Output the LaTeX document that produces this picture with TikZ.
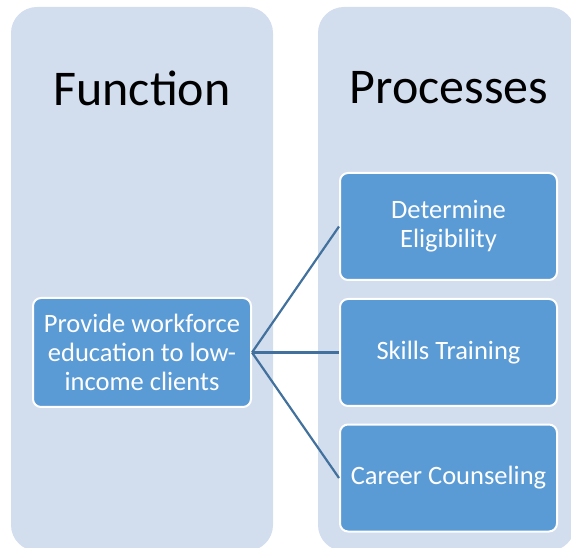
\documentclass[tikz,border=0pt]{standalone}
\usepackage{fontspec}
\setmainfont{Carlito}
\definecolor{panelfill}{RGB}{210,221,238}
\definecolor{boxfill}{RGB}{91,155,213}
\definecolor{linkcol}{RGB}{65,113,156}
\tikzset{
  panel/.style={fill=panelfill, draw=none, rounded corners=26pt},
  procbox/.style={fill=boxfill, draw=white, line width=2pt, rounded corners=8pt,
    minimum width=217pt, minimum height=107pt, text=white, align=center,
    font=\fontsize{26.5}{29}\selectfont, inner sep=0pt},
  title/.style={font=\fontsize{50}{60}\selectfont, text=black},
  link/.style={draw=linkcol, line width=2.2pt}
}
\begin{document}
\begin{tikzpicture}[x=1pt,y=-1pt]
  \useasboundingbox (0,0) rectangle (571,548);
  \begin{scope}
    \clip (0,0) rectangle (571,548);
    \fill[panel] (11,7) rectangle (273,551);
    \fill[panel] (318,7) rectangle (575,551);
  \end{scope}
  \node[title] (ftitle) at (142,88) {Function};
  \node[title] (ptitle) at (449,88) {Processes};
  \node[procbox, minimum width=218pt, minimum height=109pt] (func) at (142,352.5) {Provide workforce\\education to low-\\income clients};
  \node[procbox] (elig) at (448.5,226.5) {Determine\\Eligibility};
  \node[procbox] (skill) at (448.5,352.5) {Skills Training};
  \node[procbox] (career) at (448.5,478) {Career Counseling};
  \draw[link] (func.east) -- (elig.west);
  \draw[link] (func.east) -- (skill.west);
  \draw[link] (func.east) -- (career.west);
\end{tikzpicture}
\end{document}
